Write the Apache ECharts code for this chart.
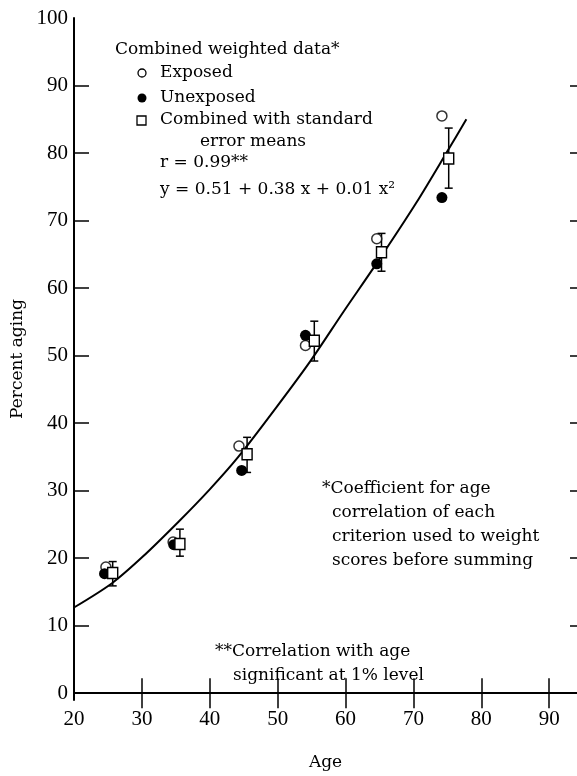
<!DOCTYPE html>
<html>
<head>
<meta charset="utf-8">
<script src="https://cdn.jsdelivr.net/npm/echarts@6/dist/echarts.min.js"></script>
<style>
  html, body { margin: 0; padding: 0; background: #fff; }
  #chart { width: 577px; height: 776px; }
</style>
</head>
<body>
<div id="chart"></div>
<script>
  // values
  var exposedAge = [24.7, 34.6, 44.3, 54.1, 64.6, 74.2];
  var exposedVal = [18.7, 22.4, 36.6, 51.5, 67.3, 85.5];
  var unexposedAge = [24.5, 34.7, 44.7, 54.1, 64.6, 74.2];
  var unexposedVal = [17.7, 22.0, 33.0, 53.0, 63.6, 73.4];
  var combinedAge = [25.7, 35.6, 45.5, 55.4, 65.3, 75.2];
  var combinedVal = [17.8, 22.1, 35.4, 52.2, 65.3, 79.2];
  var errLow = [15.9, 20.3, 32.7, 49.2, 62.5, 74.8];
  var errHigh = [19.5, 24.3, 37.9, 55.1, 68.1, 83.7];
  var curveAge = [20, 25.6, 30.1, 35.4, 40, 44.2, 50, 54.9, 59.7, 64.6, 70.4, 75.2, 77.8];
  var curveVal = [12.7, 16.3, 20.2, 25.4, 30.2, 35.0, 42.6, 49.3, 56.5, 63.7, 72.6, 80.6, 85.0];
  var xLabels = [20, 30, 40, 50, 60, 70, 80, 90];
  var xTicks = [30, 40, 50, 60, 70, 80, 90];
  var yLabels = [0, 10, 20, 30, 40, 50, 60, 70, 80, 90, 100];
  var yTicks = [10, 20, 30, 40, 50, 60, 70, 80, 90];

  function zip(a, b) {
    return a.map(function (v, i) { return [v, b[i]]; });
  }

  var serif = 'Liberation Serif';
  var book = 'DejaVu Serif';
  var black = '#000';

  function label(x, y, text) {
    return {
      type: 'text', x: x, y: y,
      style: { text: text, font: '17px "' + book + '"', fill: black, verticalAlign: 'middle' }
    };
  }

  var chart = echarts.init(document.getElementById('chart'));

  var option = {
    backgroundColor: '#fff',
    animation: false,
    textStyle: { fontFamily: serif, color: black },
    grid: { left: 74, right: -3, top: 18, bottom: 56 },
    xAxis: [{
      type: 'value', position: 'bottom', min: 20, max: 94.1,
      name: 'Age', nameLocation: 'middle', nameGap: 54,
      nameTextStyle: { fontFamily: book, fontSize: 17, color: black },
      axisLine: { lineStyle: { color: black, width: 2 } },
      axisTick: { inside: true, length: 15, lineStyle: { color: black, width: 1.5 }, customValues: xTicks },
      axisLabel: { customValues: xLabels, fontFamily: serif, fontSize: 21, color: black, margin: 9 },
      splitLine: { show: false }
    }, {
      type: 'value', position: 'top', min: 20, max: 94.1,
      axisLine: { lineStyle: { color: black, width: 2 } },
      axisTick: { inside: true, length: 15, lineStyle: { color: black, width: 1.5 }, customValues: xTicks },
      axisLabel: { show: false },
      splitLine: { show: false }
    }],
    yAxis: [{
      type: 'value', position: 'left', min: -1, max: 100,
      name: 'Percent aging', nameLocation: 'middle', nameRotate: 90, nameGap: 41,
      nameTextStyle: { fontFamily: book, fontSize: 17, color: black },
      axisLine: { show: true, lineStyle: { color: black, width: 2 } },
      axisTick: { show: true, inside: true, length: 15, lineStyle: { color: black, width: 1.5 }, customValues: yTicks },
      axisLabel: { customValues: yLabels, fontFamily: serif, fontSize: 21, color: black, margin: 6 },
      splitLine: { show: false }
    }, {
      type: 'value', position: 'right', min: -1, max: 100,
      axisLine: { show: false },
      axisTick: { show: true, inside: true, length: 7, lineStyle: { color: black, width: 1.5 }, customValues: yTicks },
      axisLabel: { show: false },
      splitLine: { show: false }
    }],
    series: [{
      name: 'Fit',
      type: 'line',
      data: zip(curveAge, curveVal),
      showSymbol: false,
      smooth: 0.3,
      lineStyle: { color: black, width: 2 },
      z: 1
    }, {
      name: 'SE',
      type: 'custom',
      data: combinedAge.map(function (a, i) { return [a, errLow[i], errHigh[i]]; }),
      renderItem: function (params, api) {
        var lo = api.coord([api.value(0), api.value(1)]);
        var hi = api.coord([api.value(0), api.value(2)]);
        var half = 4;
        var st = { stroke: black, lineWidth: 1.5 };
        return {
          type: 'group',
          children: [
            { type: 'line', shape: { x1: lo[0], y1: lo[1], x2: hi[0], y2: hi[1] }, style: st },
            { type: 'line', shape: { x1: lo[0] - half, y1: lo[1], x2: lo[0] + half, y2: lo[1] }, style: st },
            { type: 'line', shape: { x1: hi[0] - half, y1: hi[1], x2: hi[0] + half, y2: hi[1] }, style: st }
          ]
        };
      },
      z: 2
    }, {
      name: 'Exposed',
      type: 'scatter',
      data: zip(exposedAge, exposedVal),
      symbol: 'circle',
      symbolSize: 10,
      itemStyle: { color: '#fff', borderColor: black, borderWidth: 1.5 },
      z: 3
    }, {
      name: 'Unexposed',
      type: 'scatter',
      data: zip(unexposedAge, unexposedVal),
      symbol: 'circle',
      symbolSize: 11,
      itemStyle: { color: black, opacity: 1 },
      z: 4
    }, {
      name: 'Combined',
      type: 'scatter',
      data: zip(combinedAge, combinedVal),
      symbol: 'rect',
      symbolSize: [10, 11],
      itemStyle: { color: '#fff', borderColor: black, borderWidth: 1.5, opacity: 1 },
      z: 5
    }],
    graphic: [
      label(115, 50, 'Combined weighted data*'),
      { type: 'circle', shape: { cx: 142, cy: 73, r: 4 }, style: { fill: '#fff', stroke: black, lineWidth: 1.3 } },
      label(160, 73, 'Exposed'),
      { type: 'circle', shape: { cx: 142, cy: 98, r: 4.5 }, style: { fill: black } },
      label(160, 98, 'Unexposed'),
      { type: 'rect', shape: { x: 137, y: 116, width: 9, height: 9 }, style: { fill: '#fff', stroke: black, lineWidth: 1.3 } },
      label(160, 120, 'Combined with standard'),
      label(200, 142, 'error means'),
      label(160, 163, 'r = 0.99**'),
      label(160, 190, 'y = 0.51 + 0.38 x + 0.01 x\u00b2'),
      label(322, 489, '*Coefficient for age'),
      label(332, 513, 'correlation of each'),
      label(332, 537, 'criterion used to weight'),
      label(332, 561, 'scores before summing'),
      label(215, 652, '**Correlation with age'),
      label(233, 676, 'significant at 1% level')
    ]
  };

  chart.setOption(option);
</script>
</body>
</html>
